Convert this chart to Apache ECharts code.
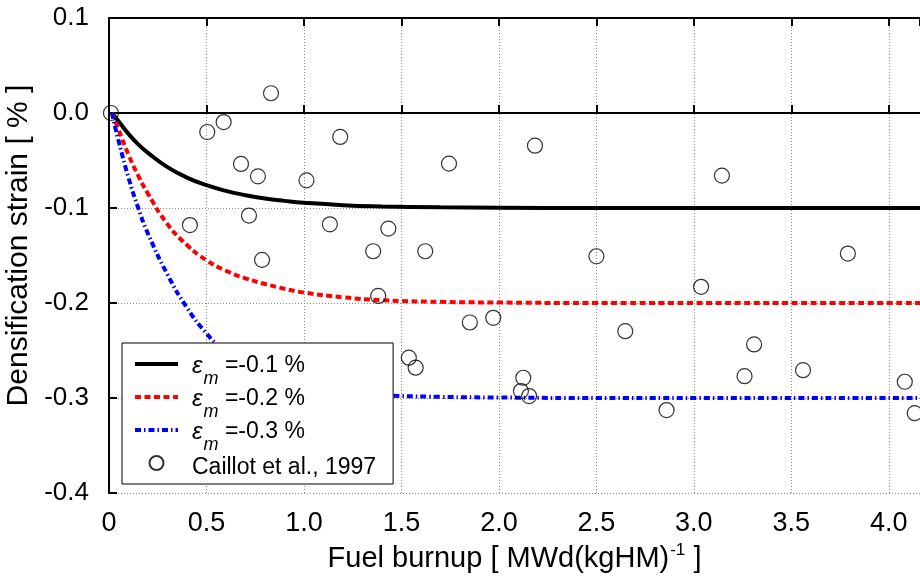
<!DOCTYPE html>
<html>
<head>
<meta charset="utf-8">
<script src="https://cdn.jsdelivr.net/npm/echarts@6/dist/echarts.min.js"></script>
<style>
html,body{margin:0;padding:0;background:#fff;}
#chart{width:920px;height:580px;}
</style>
</head>
<body>
<div id="chart"></div>
<script>
// Model curves
const curveBlackX = [0.015, 0.05, 0.1, 0.15, 0.2, 0.3, 0.4, 0.5, 0.6, 0.7, 0.8, 0.9, 1.0, 1.2, 1.4, 1.7, 2.0, 2.5, 3.0, 4.16];
const curveBlackY = [0, -0.009, -0.022, -0.033, -0.042, -0.057, -0.068, -0.076, -0.082, -0.0865, -0.090, -0.0925, -0.0945, -0.097, -0.0983, -0.0993, -0.0997, -0.1, -0.1, -0.1];

const curveRedX = [0.015, 0.05, 0.1, 0.15, 0.2, 0.3, 0.4, 0.5, 0.6, 0.7, 0.8, 0.9, 1.0, 1.2, 1.4, 1.7, 2.0, 2.5, 3.0, 4.16];
const curveRedY = [0, -0.018, -0.044, -0.066, -0.085, -0.117, -0.139, -0.155, -0.166, -0.174, -0.180, -0.185, -0.189, -0.194, -0.197, -0.1988, -0.1995, -0.2, -0.2, -0.2];

const curveBlueX = [0.015, 0.05, 0.1, 0.15, 0.2, 0.3, 0.4, 0.5, 0.6, 0.7, 0.8, 0.9, 1.0, 1.2, 1.4, 1.7, 2.0, 2.5, 3.0, 4.16];
const curveBlueY = [0, -0.030, -0.068, -0.100, -0.127, -0.170, -0.205, -0.232, -0.252, -0.266, -0.276, -0.283, -0.288, -0.294, -0.297, -0.2988, -0.2995, -0.3, -0.3, -0.3];

// Caillot et al., 1997 measurements
const caillotX = [0.01, 0.415, 0.504, 0.588, 0.677, 0.718, 0.764, 0.785, 0.831, 1.013, 1.133, 1.186, 1.355, 1.381, 1.433, 1.538, 1.573, 1.622, 1.744, 1.851, 1.971, 2.125, 2.113, 2.155, 2.185, 2.50, 2.648, 2.86, 3.037, 3.144, 3.26, 3.309, 3.56, 3.79, 4.082, 4.133];
const caillotY = [0.0, -0.118, -0.020, -0.0095, -0.0536, -0.108, -0.0667, -0.1546, 0.0208, -0.0709, -0.1172, -0.0252, -0.1455, -0.1926, -0.1217, -0.2576, -0.2681, -0.1455, -0.0533, -0.2205, -0.2156, -0.2787, -0.2927, -0.298, -0.0344, -0.1508, -0.2297, -0.3127, -0.183, -0.0659, -0.277, -0.2436, -0.2707, -0.148, -0.2829, -0.316];

const legendStrains = ['-0.1', '-0.2', '-0.3'];
const scatterName = 'Caillot et al., 1997';
const xTicks = ['0', '0.5', '1.0', '1.5', '2.0', '2.5', '3.0', '3.5', '4.0'];

function pairs(xs, ys) { return xs.map((x, i) => [x, ys[i]]); }

const FONT = 'Liberation Sans, Arial, sans-serif';
const seriesNames = legendStrains.map(s => 'em' + s);

const chart = echarts.init(document.getElementById('chart'), null, {renderer: 'canvas'});

const axisCommon = {
  type: 'value',
  min: 0, max: 4.16, interval: 0.5,
  axisLine: {show: true, lineStyle: {color: '#000', width: 2}},
  axisTick: {show: true, inside: true, length: 8, lineStyle: {color: '#000', width: 2}},
};

chart.setOption({
  animation: false,
  backgroundColor: '#fff',
  textStyle: {fontFamily: FONT, color: '#000'},
  grid: {left: 109, right: 0, top: 18, bottom: 87, containLabel: false, outerBoundsMode: 'none'},
  xAxis: [
    Object.assign({}, axisCommon, {
      position: 'bottom',
      name: '{a|Fuel burnup [ MWd(kgHM)}{sup|-1}{a| ]}',
      nameLocation: 'middle',
      nameGap: 48,
      nameTextStyle: {
        rich: {
          a: {fontSize: 29, fontFamily: FONT, color: '#000', verticalAlign: 'bottom', lineHeight: 32},
          sup: {fontSize: 17, fontFamily: FONT, color: '#000', verticalAlign: 'top', padding: [0, 0, 14, 1], lineHeight: 32}
        }
      },
      axisLabel: {
        show: true, fontSize: 27, fontFamily: FONT, color: '#000', margin: 17,
        showMaxLabel: false,
        formatter: function (v) {
          const i = Math.round(v / 0.5);
          if (Math.abs(v - i * 0.5) > 1e-6) return '';
          return xTicks[i] !== undefined ? xTicks[i] : '';
        }
      },
      splitLine: {show: true, lineStyle: {color: '#8a8a8a', width: 1, type: [1, 2]}}
    }),
    Object.assign({}, axisCommon, {
      position: 'top',
      axisLabel: {show: false},
      splitLine: {show: false}
    })
  ],
  yAxis: {
    type: 'value',
    min: -0.4, max: 0.1, interval: 0.1,
    name: 'Densification strain [ % ]',
    nameLocation: 'middle',
    nameGap: 68,
    nameRotate: 90,
    nameTextStyle: {fontSize: 30, fontFamily: FONT, color: '#000', padding: [0, 0, 0, 20]},
    axisLine: {show: true, lineStyle: {color: '#000', width: 2}},
    axisTick: {show: true, inside: true, length: 8, lineStyle: {color: '#000', width: 2}},
    axisLabel: {
      fontSize: 26, fontFamily: FONT, color: '#000', margin: 20,
      formatter: function (v) { if (Math.abs(v) < 1e-9) return '0.0'; return v.toFixed(1); }
    },
    splitLine: {show: true, lineStyle: {color: '#8a8a8a', width: 1, type: [1, 2]}}
  },
  legend: {
    orient: 'vertical',
    left: 122, top: 343,
    backgroundColor: '#fff',
    borderColor: '#000', borderWidth: 1,
    padding: [8, 17, 3, 11],
    itemWidth: 43, itemHeight: 14,
    itemGap: -4,
    lineStyle: {width: 4},
    data: seriesNames.map(n => ({name: n, itemStyle: {opacity: 0}})).concat([{name: scatterName}]),
    textStyle: {
      fontFamily: FONT, fontSize: 23, color: '#000', padding: [0, 0, 0, 9],
      rich: {
        e: {fontSize: 24, fontStyle: 'italic', fontFamily: FONT, color: '#000', lineHeight: 26, padding: [3, 0, 0, 0], verticalAlign: 'top'},
        s: {fontSize: 18, fontStyle: 'italic', fontFamily: FONT, color: '#000', lineHeight: 18, padding: [19, 0, 0, 1], verticalAlign: 'top'},
        t: {fontSize: 23, fontFamily: FONT, color: '#000', lineHeight: 26, padding: [3, 0, 0, 0], verticalAlign: 'top'},
        c: {fontSize: 23, fontFamily: FONT, color: '#000', lineHeight: 26, padding: [6, 0, 2, 0], verticalAlign: 'top'}
      }
    },
    formatter: function (name) {
      const i = seriesNames.indexOf(name);
      if (i < 0) return '{c|' + name + '}';
      return '{e|ε}{s|m}{t| =' + legendStrains[i] + ' %}';
    }
  },
  series: [
    {
      name: seriesNames[0], type: 'line', data: pairs(curveBlackX, curveBlackY),
      symbol: 'none', smooth: 0.5,
      lineStyle: {color: '#000', width: 4}, itemStyle: {color: '#000'}, z: 3
    },
    {
      name: seriesNames[1], type: 'line', data: pairs(curveRedX, curveRedY),
      symbol: 'none', smooth: 0.5,
      lineStyle: {color: '#ff0000', width: 4, type: [6, 3.5]}, itemStyle: {color: '#ff0000'}, z: 3
    },
    {
      name: seriesNames[2], type: 'line', data: pairs(curveBlueX, curveBlueY),
      symbol: 'none', smooth: 0.5,
      lineStyle: {color: '#0000ff', width: 4, type: [6, 3, 1.5, 3]}, itemStyle: {color: '#0000ff'}, z: 3
    },
    {
      name: scatterName, type: 'scatter', data: pairs(caillotX, caillotY),
      symbol: 'circle', symbolSize: 15,
      itemStyle: {color: 'rgba(255,255,255,0)', borderColor: '#000', borderWidth: 1.2}, z: 4
    }
  ]
});
</script>
</body>
</html>
